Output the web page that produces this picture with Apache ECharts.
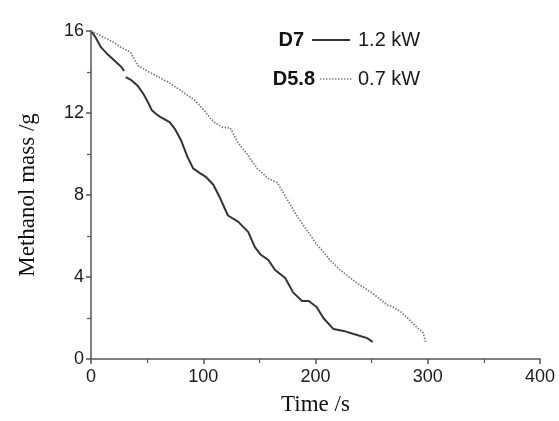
<!DOCTYPE html>
<html><head><meta charset="utf-8">
<script src="https://cdn.jsdelivr.net/npm/echarts@6/dist/echarts.min.js"></script>
<style>html,body{margin:0;padding:0;background:#fff}#c{width:559px;height:421px}</style>
</head><body><div id="c"></div>
<script>
var xTicks = [0, 100, 200, 300, 400];
var yTicks = [0, 4, 8, 12, 16];
var legendNames = ['D7', 'D5.8'];
var legendPowers = ['1.2 kW', '0.7 kW'];

var d7Time = [0, 4, 9, 15, 22, 27, 29.5, 30.5, 31, 36, 42, 47, 51, 54, 58, 62, 70, 75, 80, 86, 91, 97, 102, 109, 115, 122, 131, 140, 146, 151, 158, 164, 173, 180, 188, 194, 201, 207, 216, 225, 237, 246, 251];
var d7Mass = [16, 15.7, 15.2, 14.85, 14.5, 14.25, 14.05, null, 13.75, 13.6, 13.3, 12.9, 12.5, 12.15, 11.95, 11.8, 11.55, 11.2, 10.7, 9.85, 9.3, 9.07, 8.9, 8.5, 7.85, 7.0, 6.7, 6.2, 5.46, 5.1, 4.83, 4.34, 3.95, 3.25, 2.83, 2.83, 2.54, 2.0, 1.46, 1.37, 1.17, 1.02, 0.83];

var d58Time = [0, 6, 12.5, 20, 27, 35, 42, 50, 57, 69, 80, 93, 102, 107, 111, 117, 124, 131, 139, 148, 158, 166, 175, 184, 192, 201, 213, 222, 237, 251, 264, 269, 276, 282, 290, 296, 298];
var d58Mass = [16, 15.85, 15.66, 15.45, 15.2, 14.97, 14.3, 14.05, 13.85, 13.5, 13.1, 12.6, 12.05, 11.7, 11.5, 11.3, 11.27, 10.55, 10.0, 9.3, 8.8, 8.6, 7.76, 6.93, 6.3, 5.6, 4.83, 4.34, 3.7, 3.2, 2.63, 2.54, 2.3, 2.0, 1.56, 1.27, 0.83];

function pairs(t, m) { return t.map(function (v, i) { return [v, m[i] === null ? '-' : m[i]]; }); }

var chart = echarts.init(document.getElementById('c'), null, {renderer: 'canvas'});
var axisCol = '#555';
var sans = 'Liberation Sans, Arial, sans-serif';
var labelStyle = {color: '#1a1a1a', fontFamily: sans, fontSize: 18};
var nameStyle = {color: '#111', fontFamily: 'Liberation Serif, Times New Roman, serif', fontSize: 23};

var solidLine = {type: 'solid', color: '#333', width: 2};
var dotLine = {type: [1.5, 1.5], color: '#7a7a7a', width: 1.7};

chart.setOption({
  animation: false,
  grid: {left: 91, right: 19, top: 31, bottom: 62},
  xAxis: {
    type: 'value', min: xTicks[0], max: xTicks[xTicks.length - 1], interval: 100,
    name: 'Time /s', nameLocation: 'middle', nameGap: 34, nameTextStyle: nameStyle,
    axisLine: {show: true, lineStyle: {color: axisCol, width: 1.5}},
    axisTick: {show: true, inside: false, length: 5, lineStyle: {color: axisCol, width: 1.5}},
    minorTick: {show: true, splitNumber: 2, length: 4, lineStyle: {color: axisCol, width: 1.2}},
    axisLabel: Object.assign({margin: 9}, labelStyle),
    splitLine: {show: false}
  },
  yAxis: {
    type: 'value', min: yTicks[0], max: yTicks[yTicks.length - 1], interval: 4,
    name: 'Methanol mass /g', nameLocation: 'middle', nameGap: 52, nameTextStyle: nameStyle,
    axisLine: {show: true, lineStyle: {color: axisCol, width: 1.5}},
    axisTick: {show: true, inside: false, length: 5, lineStyle: {color: axisCol, width: 1.5}},
    minorTick: {show: true, splitNumber: 2, length: 4, lineStyle: {color: axisCol, width: 1.2}},
    axisLabel: Object.assign({margin: 7}, labelStyle),
    splitLine: {show: false}
  },
  series: [
    {name: legendNames[0], type: 'line', data: pairs(d7Time, d7Mass), showSymbol: false, smooth: false, connectNulls: false, lineStyle: solidLine},
    {name: legendNames[1], type: 'line', data: pairs(d58Time, d58Mass), showSymbol: false, smooth: false, lineStyle: dotLine}
  ],
  graphic: [
    {type: 'text', x: 304, y: 40, style: {text: legendNames[0], align: 'right', verticalAlign: 'middle', font: 'bold 20px ' + sans, fill: '#111'}},
    {type: 'line', shape: {x1: 312, y1: 40, x2: 350, y2: 40}, style: {stroke: '#333', lineWidth: 2}},
    {type: 'text', x: 358, y: 40, style: {text: legendPowers[0], align: 'left', verticalAlign: 'middle', font: '20px ' + sans, fill: '#1a1a1a'}},
    {type: 'text', x: 315, y: 79, style: {text: legendNames[1], align: 'right', verticalAlign: 'middle', font: 'bold 20px ' + sans, fill: '#111'}},
    {type: 'line', shape: {x1: 320, y1: 79, x2: 352, y2: 79}, style: {stroke: '#888', lineWidth: 1.5, lineDash: [1.5, 1.5]}},
    {type: 'text', x: 358, y: 79, style: {text: legendPowers[1], align: 'left', verticalAlign: 'middle', font: '20px ' + sans, fill: '#1a1a1a'}}
  ]
});
</script></body></html>
